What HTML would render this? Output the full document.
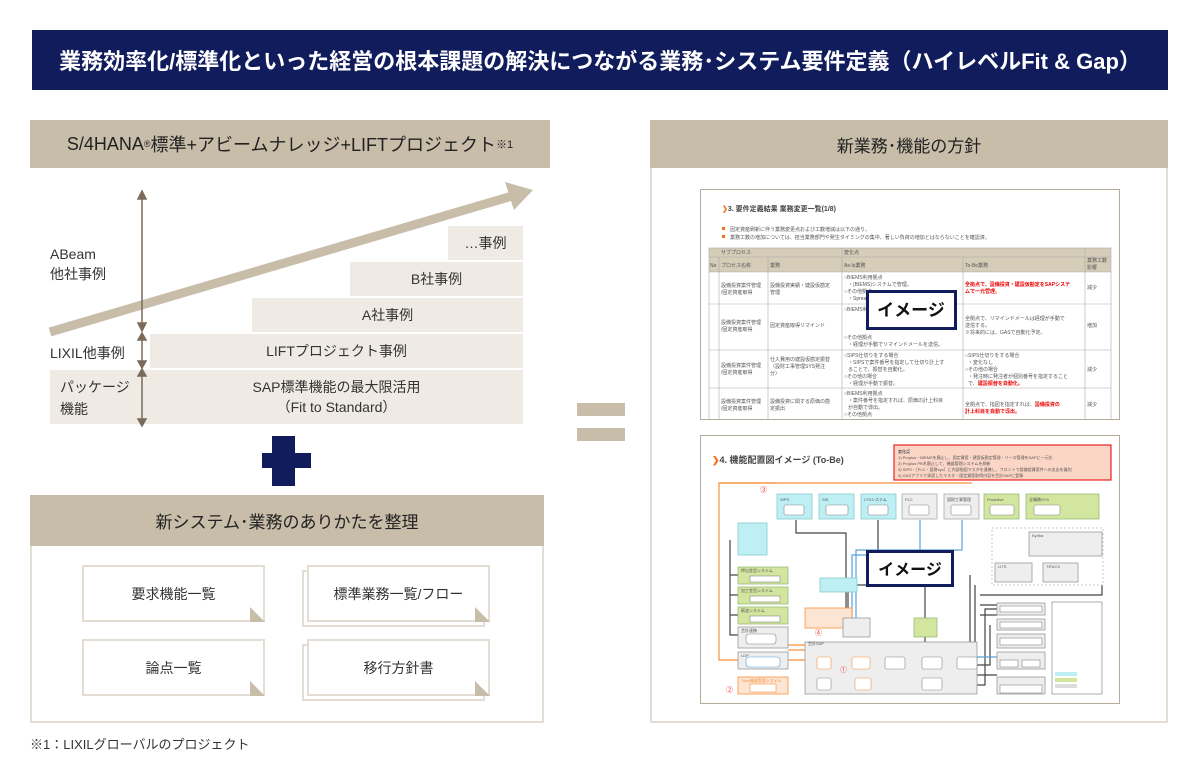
<!DOCTYPE html>
<html><head><meta charset="utf-8"><style>
*{margin:0;padding:0;box-sizing:border-box}
body{width:1200px;height:780px;background:#fff;position:relative;overflow:hidden;font-family:"Liberation Sans","Noto Sans CJK JP",sans-serif;color:#333}
.a{position:absolute}
.bar{background:#c8bda9;display:flex;align-items:center;justify-content:center;color:#222}
.st{background:#efebe4;display:flex;align-items:center;justify-content:center;font-size:14px;color:#333}
.doc{position:absolute;background:#fff;border:2px solid #e3ddd3;display:flex;align-items:center;justify-content:center;font-size:14px;color:#333}
.doc::after{content:"";position:absolute;right:-2px;bottom:-2px;width:0;height:0;border-style:solid;border-width:15px 15px 0 0;border-color:transparent #c8bda9 transparent transparent;transform:rotate(90deg)}
.img{font-family:"Liberation Sans","Noto Sans CJK JP",sans-serif}
</style></head><body>
<div class="a" style="left:32px;top:30px;width:1136px;height:60px;background:#111c5c;color:#fff;font-size:22px;font-weight:bold;display:flex;align-items:center;justify-content:center">業務効率化/標準化といった経営の根本課題の解決につながる業務･システム要件定義（ハイレベルFit &amp; Gap）</div>

<div class="a bar" style="left:30px;top:120px;width:520px;height:48px;font-size:18px">S/4HANA<sup style="font-size:9px">®</sup>標準+アビームナレッジ+LIFTプロジェクト<sup style="font-size:11px">※1</sup></div>

<div class="a st" style="left:448px;top:226px;width:75px;height:34px">…事例</div>
<div class="a st" style="left:350px;top:262px;width:173px;height:34px">B社事例</div>
<div class="a st" style="left:252px;top:298px;width:271px;height:34px">A社事例</div>
<div class="a st" style="left:150px;top:334px;width:373px;height:34px">LIFTプロジェクト事例</div>
<div class="a st" style="left:50px;top:370px;width:473px;height:54px;line-height:20px;text-align:center;padding-left:100px">SAP標準機能の最大限活用<br>（Fit to Standard）</div>
<div class="a" style="left:60px;top:376px;font-size:14px;line-height:22px">パッケージ<br>機能</div>
<div class="a" style="left:50px;top:244px;font-size:14px;line-height:20px">ABeam<br>他社事例</div>
<div class="a" style="left:50px;top:343px;font-size:14px">LIXIL他事例</div>
<svg class="a" style="left:0;top:0" width="600" height="440">
<line x1="50" y1="332" x2="512" y2="196" stroke="#c8bda9" stroke-width="9"/>
<polygon points="533,190 505,182 514,210" fill="#c8bda9"/>
<g stroke="#7a6a5a" stroke-width="1.5" fill="#7a6a5a">
<line x1="142" y1="194" x2="142" y2="328"/><line x1="142" y1="336" x2="142" y2="364"/><line x1="142" y1="372" x2="142" y2="422"/>
<polygon points="138,199 146,199 142,191"/><polygon points="138,323 146,323 142,331"/>
<polygon points="138,340 146,340 142,333"/><polygon points="138,361 146,361 142,368"/>
<polygon points="138,376 146,376 142,369"/><polygon points="138,419 146,419 142,426"/>
</g></svg>

<div class="a" style="left:262px;top:453px;width:49px;height:15px;background:#111c5c"></div>
<div class="a" style="left:272px;top:436px;width:23px;height:50px;background:#111c5c"></div>

<div class="a" style="left:30px;top:495px;width:514px;height:228px;border:2px solid #e3ddd3;border-top:none"></div>
<div class="a bar" style="left:30px;top:495px;width:514px;height:51px;font-size:17px">新システム･業務のありかたを整理</div>
<div class="doc" style="left:82px;top:565px;width:183px;height:57px">要求機能一覧</div>
<div class="a" style="left:302px;top:570px;width:183px;height:57px;border:2px solid #e3ddd3"></div>
<div class="doc" style="left:307px;top:565px;width:183px;height:57px">標準業務一覧/フロー</div>
<div class="doc" style="left:82px;top:639px;width:183px;height:57px">論点一覧</div>
<div class="a" style="left:302px;top:644px;width:183px;height:57px;border:2px solid #e3ddd3"></div>
<div class="doc" style="left:307px;top:639px;width:183px;height:57px">移行方針書</div>
<div class="a" style="left:30px;top:734px;font-size:13px">※1：LIXILグローバルのプロジェクト</div>

<div class="a" style="left:577px;top:403px;width:48px;height:13px;background:#c8bda9"></div>
<div class="a" style="left:577px;top:428px;width:48px;height:13px;background:#c8bda9"></div>

<div class="a" style="left:650px;top:120px;width:518px;height:603px;border:2px solid #e3ddd3"></div>
<div class="a bar" style="left:650px;top:120px;width:518px;height:48px;font-size:17px">新業務･機能の方針</div>

<svg class="a img" style="left:700px;top:189px" width="420" height="231" font-size="5" fill="#555">
<rect x="0.5" y="0.5" width="419" height="230" fill="#fff" stroke="#b5ab9a"/>
<text x="22" y="22" font-size="7" font-weight="bold" fill="#444"><tspan fill="#f07020">❯</tspan>3. 要件定義結果 業務変更一覧(1/8)</text>
<rect x="22" y="38" width="3" height="3" fill="#f07020"/><text x="30" y="42">固定資産刷新に伴う業務変更点および工数増減は以下の通り。</text>
<rect x="22" y="46" width="3" height="3" fill="#f07020"/><text x="30" y="50">業務工数の増加については、担当業務部門や発生タイミングの集中、著しい負荷の増加とはならないことを確認済。</text>
<rect x="9" y="59" width="402" height="24" fill="#d6cdb9"/>
<g stroke="#aaa" stroke-width="0.6" fill="none">
<rect x="9" y="59" width="402" height="172"/>
<line x1="9" y1="68" x2="411" y2="68"/><line x1="9" y1="83" x2="411" y2="83"/><line x1="9" y1="115" x2="411" y2="115"/><line x1="9" y1="161" x2="411" y2="161"/><line x1="9" y1="199" x2="411" y2="199"/>
<line x1="19" y1="68" x2="19" y2="231"/><line x1="68" y1="68" x2="68" y2="231"/><line x1="142" y1="59" x2="142" y2="231"/><line x1="263" y1="68" x2="263" y2="231"/><line x1="385" y1="59" x2="385" y2="231"/>
</g>
<text x="21" y="65">サブプロセス</text><text x="144" y="65">変化点</text>
<text x="10" y="78">No</text><text x="21" y="78">プロセス名称</text><text x="70" y="78">業務</text><text x="144" y="78">As-Is業務</text><text x="265" y="78">To-Be業務</text><text x="387" y="73">業務工数</text><text x="387" y="80">影響</text>
<g><text x="21" y="98">設備投資案件管理</text><text x="21" y="105">/固定資産取得</text><text x="70" y="98">設備投資実績・建設仮勘定</text><text x="70" y="105">管理</text>
<text x="144" y="90">○BIEMS利用拠点</text><text x="148" y="97">・(BIEMS)システムで管理。</text><text x="144" y="104">○その他拠点</text><text x="148" y="111">・Spreadsheetで管理。</text>
<text x="265" y="97" fill="#e00" font-weight="bold">全拠点で、設備投資・建設仮勘定をSAPシステ</text><text x="265" y="104" fill="#e00" font-weight="bold">ムで一元管理。</text><text x="387" y="100">減少</text>
<text x="21" y="135">設備投資案件管理</text><text x="21" y="142">/固定資産取得</text><text x="70" y="138">固定資産取得リマインド</text>
<text x="144" y="122">○BIEMS利用拠点</text><text x="144" y="150">○その他拠点</text><text x="148" y="157">・経理が手動でリマインドメールを送信。</text>
<text x="265" y="131">全拠点で、リマインドメールは経理が手動で</text><text x="265" y="138">送信する。</text><text x="265" y="145">※将来的には、GASで自動化予定。</text><text x="387" y="138">増加</text>
<text x="21" y="178">設備投資案件管理</text><text x="21" y="185">/固定資産取得</text><text x="70" y="172">仕入費用の建設仮勘定振替</text><text x="70" y="179">（設財工事管理SYS発注</text><text x="70" y="186">分）</text>
<text x="144" y="168">○SIPS仕切りをする場合</text><text x="148" y="175">・SIPSで案件番号を指定して仕切り計上す</text><text x="148" y="182">ることで、振替を自動化。</text><text x="144" y="189">○その他の場合</text><text x="148" y="196">・経理が手動で振替。</text>
<text x="265" y="168">○SIPS仕切りをする場合</text><text x="268" y="175">・変化なし</text><text x="265" y="182">○その他の場合</text><text x="268" y="189">・発注時に発注者が個別番号を指定すること</text><text x="268" y="196">で、<tspan fill="#e00" font-weight="bold">建設振替を自動化。</tspan></text><text x="387" y="182">減少</text>
<text x="21" y="214">設備投資案件管理</text><text x="21" y="221">/固定資産取得</text><text x="70" y="214">設備投資に関する原価の勘</text><text x="70" y="221">定振出</text>
<text x="144" y="206">○BIEMS利用拠点</text><text x="148" y="213">・案件番号を指定すれば、原価の計上科目</text><text x="148" y="220">が自動で導出。</text><text x="144" y="227">○その他拠点</text>
<text x="265" y="217">全拠点で、指図を指定すれば、<tspan fill="#e00" font-weight="bold">設備投資の</tspan></text><text x="265" y="224" fill="#e00" font-weight="bold">計上科目を自動で導出。</text><text x="387" y="217">減少</text></g>
<rect x="167.5" y="102.5" width="88" height="37" fill="#fff" stroke="#111c5c" stroke-width="3"/>
<text x="211" y="127" font-size="17" font-weight="bold" fill="#111" text-anchor="middle">イメージ</text>
</svg>

<svg class="a img" style="left:700px;top:435px" width="420" height="269" font-size="4" fill="#555">
<rect x="0.5" y="0.5" width="419" height="268" fill="#fff" stroke="#b5ab9a"/>
<text x="12" y="28" font-size="9" font-weight="bold" fill="#444"><tspan fill="#f07020">❯</tspan>4. 機能配置図イメージ (To-Be)</text>
<rect x="194" y="10" width="217" height="35" fill="#fbd5c5" stroke="#e22" stroke-width="1.2"/>
<text x="198" y="18" font-weight="bold">変化点</text><text x="198" y="24">1) Proplus・BIEMSを廃止し、固定資産・建設仮勘定管理・リース管理をSAPに一元化</text><text x="198" y="30">2) Proplus PR木廃止して、機器管理システムを刷新</text><text x="198" y="36">3) SIPS・［PLC・設財sys］に内部指図マスタを連携し、フロントで設備投資案件への支出を識別</text><text x="198" y="42">4) GASアプリで承認したマスタ・固定資産取得内容を会計SAPに登録</text>
<g fill="none" stroke-width="1.2">
<path d="M77 48 H19 V225 H38" stroke="#f7913d"/><path d="M19 48 H272" stroke="#f7913d"/>
<path d="M96 85 V98 H146 V183" stroke="#444"/><path d="M178 85 V150 H148 V183" stroke="#444"/>
<path d="M220 85 V120 H152 V183" stroke="#5aa0d8"/><path d="M262 85 V115 H156 V183" stroke="#5aa0d8"/>
<path d="M30 105 V200 H38" stroke="#444"/><path d="M30 140 H38 M30 160 H38 M30 180 H38" stroke="#444"/>
<path d="M225 150 V183" stroke="#444"/><path d="M225 202 V207" stroke="#444"/>
<path d="M270 140 V207 M275 150 V207" stroke="#444"/>
<path d="M280 160 H402 V150 M280 170 H300 M280 180 H297" stroke="#444"/>
<path d="M262 240 H297 M262 250 H285 V174 H297 M262 230 H290 V190" stroke="#444"/>
<path d="M88 225 H105 M88 210 H105 M88 215 H105" stroke="#f7913d"/>
<path d="M262 222 H297" stroke="#5aa0d8"/>
</g>
<g stroke-width="0.8">
<rect x="77" y="59" width="35" height="25" fill="#bdeff5" stroke="#8cc"/><rect x="119" y="59" width="35" height="25" fill="#bdeff5" stroke="#8cc"/><rect x="161" y="59" width="35" height="25" fill="#bdeff5" stroke="#8cc"/>
<rect x="202" y="59" width="35" height="25" fill="#eee" stroke="#aaa"/><rect x="244" y="59" width="35" height="25" fill="#eee" stroke="#aaa"/>
<rect x="284" y="59" width="35" height="25" fill="#d2e6a0" stroke="#9b7"/><rect x="326" y="59" width="73" height="25" fill="#d2e6a0" stroke="#9b7"/>
<rect x="38" y="88" width="29" height="32" fill="#bdeff5" stroke="#8cc"/>
<rect x="38" y="132" width="50" height="17" fill="#d2e6a0" stroke="#9b7"/><rect x="38" y="152" width="50" height="17" fill="#d2e6a0" stroke="#9b7"/><rect x="38" y="172" width="50" height="17" fill="#d2e6a0" stroke="#9b7"/>
<rect x="38" y="192" width="50" height="21" fill="#eee" stroke="#999"/><rect x="38" y="217" width="50" height="17" fill="#eee" stroke="#999"/>
<rect x="38" y="242" width="50" height="17" fill="#fde5d3" stroke="#f7913d"/>
<rect x="105" y="173" width="47" height="20" fill="#fde5d3" stroke="#f7913d"/>
<rect x="120" y="143" width="37" height="14" fill="#bdeff5" stroke="#8cc"/>
<rect x="143" y="183" width="27" height="19" fill="#eee" stroke="#999"/><rect x="214" y="183" width="23" height="19" fill="#d2e6a0" stroke="#9b7"/>
<rect x="105" y="207" width="172" height="52" fill="#eee" stroke="#999"/>
<rect x="292" y="93" width="111" height="57" fill="none" stroke="#bbb" stroke-dasharray="2,2"/>
<rect x="329" y="97" width="73" height="24" fill="#eee" stroke="#999"/><rect x="295" y="128" width="37" height="19" fill="#eee" stroke="#999"/><rect x="343" y="128" width="35" height="19" fill="#eee" stroke="#999"/>
<rect x="297" y="168" width="48" height="12" fill="#eee" stroke="#999"/><rect x="297" y="184" width="48" height="11" fill="#eee" stroke="#999"/><rect x="297" y="199" width="48" height="14" fill="#eee" stroke="#999"/><rect x="297" y="217" width="48" height="17" fill="#eee" stroke="#999"/><rect x="297" y="242" width="48" height="17" fill="#eee" stroke="#999"/>
<rect x="352" y="167" width="50" height="92" fill="#fff" stroke="#999"/>
<rect x="355" y="237" width="22" height="4" fill="#bdeff5"/><rect x="355" y="243" width="22" height="4" fill="#d2e6a0"/><rect x="355" y="249" width="22" height="4" fill="#ddd"/>
</g>
<g fill="#fff" stroke="#888" stroke-width="0.6">
<rect x="84" y="70" width="20" height="10" rx="2"/><rect x="126" y="70" width="22" height="10" rx="2"/><rect x="168" y="70" width="20" height="10" rx="2"/><rect x="209" y="70" width="20" height="10" rx="2"/><rect x="251" y="70" width="20" height="10" rx="2"/><rect x="290" y="70" width="24" height="10" rx="2"/><rect x="334" y="70" width="26" height="10" rx="2"/>
<rect x="50" y="141" width="30" height="6"/><rect x="50" y="161" width="30" height="6"/><rect x="50" y="181" width="30" height="6"/><rect x="46" y="199" width="30" height="10" rx="3"/><rect x="46" y="222" width="34" height="10" rx="3" stroke="#5aa0d8"/><rect x="50" y="249" width="26" height="8" stroke="#f7913d"/>
<rect x="117" y="222" width="14" height="12" rx="2" stroke="#f7913d"/><rect x="152" y="222" width="18" height="12" rx="2" stroke="#f7913d"/><rect x="155" y="243" width="16" height="12" rx="2" stroke="#f7913d"/><rect x="185" y="222" width="20" height="12" rx="2"/><rect x="222" y="222" width="20" height="12" rx="2"/><rect x="222" y="243" width="20" height="12" rx="2"/><rect x="257" y="222" width="20" height="12" rx="2"/><rect x="117" y="243" width="14" height="12" rx="2"/>
<rect x="300" y="171" width="42" height="6"/><rect x="300" y="187" width="42" height="6"/><rect x="300" y="203" width="42" height="7"/><rect x="300" y="225" width="18" height="7"/><rect x="322" y="225" width="18" height="7"/><rect x="300" y="250" width="42" height="8"/>
</g>
<text x="80" y="66">SIPS</text><text x="122" y="66">SIS</text><text x="164" y="66">LTSシステム</text><text x="205" y="66">PLC</text><text x="247" y="66">設財工事管理</text><text x="287" y="66">Proactive</text><text x="329" y="66">全職務SYS</text>
<text x="108" y="210">会計SAP</text><text x="41" y="137">押出金型システム</text><text x="41" y="157">加工金型システム</text><text x="41" y="177">砺波システム</text><text x="41" y="197">会計連携</text><text x="41" y="222">LDP</text><text x="41" y="247" fill="#f7913d">Tobe機器管理システム</text>
<text x="332" y="102">Kyriba</text><text x="298" y="133">LITS</text><text x="346" y="133">TIFACS</text>
<text x="60" y="57" font-size="7" fill="#e33">③</text><text x="115" y="200" font-size="7" fill="#e33">④</text><text x="140" y="237" font-size="7" fill="#e33">①</text><text x="26" y="257" font-size="7" fill="#e33">②</text>
<rect x="167.5" y="116.5" width="85" height="34" fill="#fff" stroke="#111c5c" stroke-width="3"/>
<text x="210" y="140" font-size="16" font-weight="bold" fill="#111" text-anchor="middle">イメージ</text>
</svg>
</body></html>
